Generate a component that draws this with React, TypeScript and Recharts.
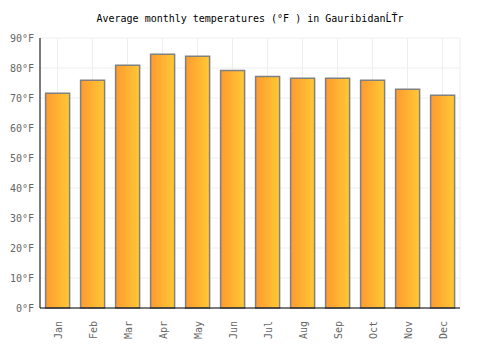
import { Bar, BarChart, CartesianGrid, XAxis, YAxis } from "recharts";

const months = ["Jan", "Feb", "Mar", "Apr", "May", "Jun", "Jul", "Aug", "Sep", "Oct", "Nov", "Dec"];
const tempsF = [71.6, 75.9, 80.9, 84.6, 83.9, 79.2, 77.2, 76.6, 76.6, 75.9, 72.9, 70.9];
const yTicks = [0, 10, 20, 30, 40, 50, 60, 70, 80, 90];

const data = months.map((month, i) => ({ month, temp: tempsF[i] }));

const font = "'DejaVu Sans Mono', monospace";

function MonthTick({ x, y, payload }: any) {
  return (
    <text
      x={0}
      y={0}
      transform={`translate(${x + 4},${y + 5}) rotate(-90)`}
      textAnchor="end"
      fontFamily={font}
      fontSize={10}
      fill="#666"
    >
      {payload.value}
    </text>
  );
}

export default function App() {
  return (
    <div style={{ position: "absolute", left: 0, top: 0, width: 500, height: 350, background: "#fff" }}>
      <div
        style={{
          position: "absolute",
          top: 13,
          left: 0,
          width: 500,
          textAlign: "center",
          fontFamily: font,
          fontSize: 10,
          color: "#000",
        }}
      >
        Average monthly temperatures (°F ) in GauribidanĹŤr
      </div>
      <BarChart
        width={500}
        height={350}
        data={data}
        margin={{ top: 38, right: 40, bottom: 0, left: 0 }}
        barCategoryGap="16%"
      >
        <defs>
          <linearGradient id="barFill" x1="0" x2="1" y1="0" y2="0">
            <stop offset="0%" stopColor="#ff9a30" />
            <stop offset="100%" stopColor="#ffc935" />
          </linearGradient>
        </defs>
        <CartesianGrid stroke="#eeeeee" strokeWidth={1} />
        <XAxis
          dataKey="month"
          tick={<MonthTick />}
          tickLine={false}
          axisLine={{ stroke: "#000" }}
          height={42}
          interval={0}
        />
        <YAxis
          domain={[0, 90]}
          ticks={yTicks}
          tickFormatter={(v) => `${v}°F`}
          width={40}
          tickLine={false}
          tickSize={6}
          tickMargin={0}
          axisLine={{ stroke: "#000" }}
          tick={{ fontFamily: font, fontSize: 10, fill: "#666" }}
        />
        <Bar dataKey="temp" fill="url(#barFill)" stroke="#808080" strokeWidth={1.5} isAnimationActive={false} />
      </BarChart>
    </div>
  );
}
